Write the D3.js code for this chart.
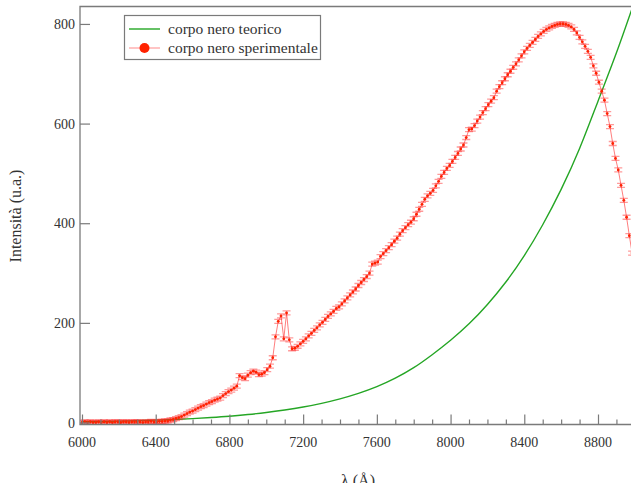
<!DOCTYPE html>
<html>
<head>
<meta charset="utf-8">
<script src="https://cdn.jsdelivr.net/npm/d3@7"></script>
<style>
  body { margin: 0; background: #fff; }
  svg text { font-family: "Liberation Serif", "DejaVu Serif", serif; fill: #333; }
</style>
</head>
<body>
<svg id="chart" width="631" height="483"></svg>
<script>
var width = 631;
var height = 483;

// experimental spectrum, one value every 15 A starting at 6000 A
var lambdaStart = 6000;
var lambdaStep = 15;
var intensityExp = [
    0, 1, 0, 1, 0, 0, 1, 0, 1, 0,
    1, 0, 1, 1, 0, 1, 1, 0, 1, 1,
    1, 1, 0, 1, 1, 2, 1, 1, 2, 2,
    3, 3, 5, 6, 8, 10, 12, 15, 18, 21,
    23, 26, 29, 32, 34, 37, 40, 42, 45, 47,
    49, 54, 58, 62, 65, 69, 73, 94, 90, 88,
    95, 100, 103, 101, 96, 97, 100, 106, 113, 130,
    172, 203, 214, 168, 220, 166, 148, 149, 153, 158,
    163, 168, 174, 179, 185, 190, 196, 201, 207, 213,
    218, 223, 229, 232, 238, 244, 250, 256, 262, 268,
    275, 281, 287, 293, 300, 318, 320, 322, 333, 339,
    345, 351, 357, 364, 370, 378, 385, 391, 397, 402,
    409, 418, 428, 438, 448, 455, 460, 466, 475, 484,
    494, 502, 510, 516, 524, 532, 540, 549, 557, 572,
    588, 589, 596, 605, 613, 622, 630, 638, 645, 652,
    665, 674, 682, 690, 698, 705, 713, 720, 728, 736,
    744, 751, 757, 763, 769, 775, 780, 785, 789, 792,
    795, 797, 799, 800, 800, 799, 797, 794, 789, 782,
    773, 764, 755, 745, 733, 716, 701, 683, 665, 647,
    620, 594, 560, 530, 507, 476, 446, 412, 375, 340
];
var errorExp = 4;

// theoretical black body curve, read every 100 A
var lambdaTheory = [6000, 6100, 6200, 6300, 6400, 6500, 6600, 6700, 6800, 6900,
    7000, 7100, 7200, 7300, 7400, 7500, 7600, 7700, 7800, 7900,
    8000, 8100, 8200, 8300, 8400, 8500, 8600, 8700, 8800, 8900, 9000];
var intensityTheory = [1.5, 2, 2.7, 3.6, 4.7, 6, 7.8, 10, 12.6, 16,
    20, 25, 31, 38.5, 47.5, 58.5, 72, 89, 110, 136,
    165, 198, 237, 282, 335, 397, 468, 550, 645, 742, 847];

var xTicks = [6000, 6400, 6800, 7200, 7600, 8000, 8400, 8800];
var yTicks = [0, 200, 400, 600, 800];
var legendLabels = ["corpo nero teorico", "corpo nero sperimentale"];

var expData = intensityExp.map(function(v, i) {
    return { l: lambdaStart + i * lambdaStep, v: v };
});
var theoryData = lambdaTheory.map(function(l, i) {
    return { l: l, v: intensityTheory[i] };
});

var plotLeft = 80, plotTop = 6.5, plotBottom = 424.5;

var x = d3.scaleLinear().domain([6000, 8800]).range([82, 598]);
var y = d3.scaleLinear().domain([-4, 835]).range([plotBottom, plotTop]);

var svg = d3.select("#chart");
svg.append("rect").attr("width", width).attr("height", height).attr("fill", "#fff");

svg.append("defs").append("clipPath").attr("id", "plotClip")
    .append("rect")
    .attr("x", plotLeft).attr("y", plotTop)
    .attr("width", width - plotLeft).attr("height", plotBottom - plotTop);

var plot = svg.append("g").attr("clip-path", "url(#plotClip)");

// theoretical curve
var lineTheory = d3.line()
    .x(function(d) { return x(d.l); })
    .y(function(d) { return y(d.v); })
    .curve(d3.curveNatural);

plot.append("path")
    .datum(theoryData)
    .attr("d", lineTheory)
    .attr("fill", "none")
    .attr("stroke", "#25a625")
    .attr("stroke-width", 1.4);

// experimental points joined by a thin line
var lineExp = d3.line()
    .x(function(d) { return x(d.l); })
    .y(function(d) { return y(d.v); });

plot.append("path")
    .datum(expData)
    .attr("d", lineExp)
    .attr("fill", "none")
    .attr("stroke", "rgba(255,40,40,0.6)")
    .attr("stroke-width", 1);

// error bars
var capW = 4;
var bars = plot.append("g")
    .attr("stroke", "rgba(255,30,30,0.45)")
    .attr("stroke-width", 1.3);

bars.selectAll("path")
    .data(expData)
    .enter()
    .append("path")
    .attr("fill", "none")
    .attr("d", function(d) {
        var px = x(d.l), y0 = y(d.v - errorExp), y1 = y(d.v + errorExp);
        return "M" + px + "," + y0 + "V" + y1 +
            "M" + (px - capW) + "," + y0 + "H" + (px + capW) +
            "M" + (px - capW) + "," + y1 + "H" + (px + capW);
    });

plot.append("g")
    .selectAll("circle")
    .data(expData)
    .enter()
    .append("circle")
    .attr("cx", function(d) { return x(d.l); })
    .attr("cy", function(d) { return y(d.v); })
    .attr("r", 1.4)
    .attr("fill", "#ff2200");

// frame
var axisColor = "#7a7a7a";
svg.append("path")
    .attr("d", "M" + width + "," + plotTop + "H" + plotLeft + "V" + plotBottom + "H" + width)
    .attr("fill", "none")
    .attr("stroke", axisColor)
    .attr("stroke-width", 1.3);

// x axis: long ticks every 400, short every 100, pointing inward
var xAxis = d3.axisTop(x).tickValues(xTicks).tickSize(10).tickFormat("");
svg.append("g")
    .attr("transform", "translate(0," + plotBottom + ")")
    .call(xAxis)
    .call(function(g) { g.select(".domain").remove(); })
    .selectAll("line").attr("stroke", axisColor).attr("stroke-width", 1.2);

var minorTicks = d3.range(6100, 9000, 100).filter(function(t) { return xTicks.indexOf(t) < 0; });
svg.append("g")
    .attr("transform", "translate(0," + plotBottom + ")")
    .call(d3.axisTop(x).tickValues(minorTicks).tickSize(5).tickFormat(""))
    .call(function(g) { g.select(".domain").remove(); })
    .selectAll("line").attr("stroke", axisColor).attr("stroke-width", 1.2);

svg.append("g")
    .selectAll("text")
    .data(xTicks)
    .enter()
    .append("text")
    .attr("x", function(d) { return x(d); })
    .attr("y", 447)
    .attr("text-anchor", "middle")
    .style("font-size", "14px")
    .text(function(d) { return d; });

// y axis
svg.append("g")
    .attr("transform", "translate(" + plotLeft + ",0)")
    .call(d3.axisRight(y).tickValues(yTicks).tickSize(10).tickFormat(""))
    .call(function(g) { g.select(".domain").remove(); })
    .selectAll("line").attr("stroke", axisColor).attr("stroke-width", 1.2);

svg.append("g")
    .selectAll("text")
    .data(yTicks)
    .enter()
    .append("text")
    .attr("x", 75)
    .attr("y", function(d) { return y(d) + 5; })
    .attr("text-anchor", "end")
    .style("font-size", "14px")
    .text(function(d) { return d; });

// axis titles
svg.append("text")
    .attr("transform", "translate(21,216) rotate(-90)")
    .attr("text-anchor", "middle")
    .style("font-size", "16px")
    .text("Intensità (u.a.)");

svg.append("text")
    .attr("x", 358)
    .attr("y", 486)
    .attr("text-anchor", "middle")
    .style("font-size", "16px")
    .text("λ (Å)");

// legend
var legend = svg.append("g");
legend.append("rect")
    .attr("x", 124.5).attr("y", 15.5)
    .attr("width", 196).attr("height", 44)
    .attr("fill", "#fff")
    .attr("stroke", axisColor)
    .attr("stroke-width", 1.2);

legend.append("line")
    .attr("x1", 129).attr("x2", 160).attr("y1", 29).attr("y2", 29)
    .attr("stroke", "#25a625").attr("stroke-width", 1.4);
legend.append("line")
    .attr("x1", 129).attr("x2", 160).attr("y1", 48).attr("y2", 48)
    .attr("stroke", "rgba(255,40,40,0.55)").attr("stroke-width", 1);
legend.append("circle")
    .attr("cx", 144.5).attr("cy", 48).attr("r", 5)
    .attr("fill", "#ff2200");

legend.selectAll("text")
    .data(legendLabels)
    .enter()
    .append("text")
    .attr("x", 168)
    .attr("y", function(d, i) { return 34 + i * 19; })
    .style("font-size", "15.5px")
    .text(function(d) { return d; });
</script>
</body>
</html>
